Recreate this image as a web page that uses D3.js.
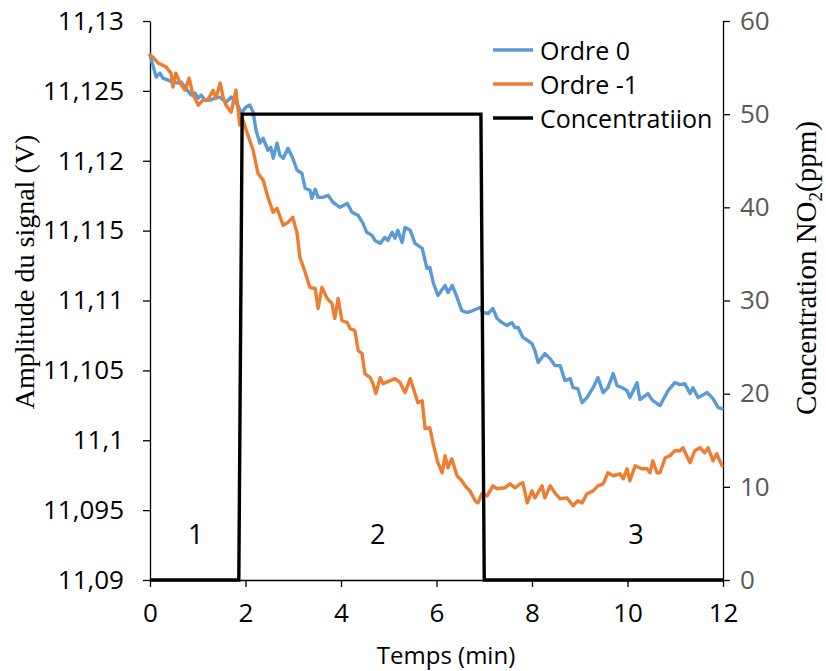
<!DOCTYPE html>
<html><head><meta charset="utf-8">
<script src="https://cdn.jsdelivr.net/npm/d3@7"></script>
<style>
body{margin:0;background:#fff;}
svg{display:block;}
</style></head>
<body>
<svg id="chart" width="826" height="671"></svg>
<script>
// ---- data ----
const timeOrdre0 = [0.00,0.13,0.21,0.27,0.38,0.48,0.59,0.65,0.73,0.86,0.94,1.01,1.07,1.15,1.26,1.36,1.47,1.59,1.70,1.84,1.91,2.01,2.09,2.16,2.22,2.30,2.37,2.47,2.53,2.58,2.66,2.72,2.79,2.89,2.99,3.08,3.18,3.25,3.35,3.39,3.46,3.52,3.62,3.73,3.83,3.98,4.13,4.23,4.36,4.46,4.54,4.65,4.71,4.82,4.92,4.98,5.07,5.13,5.19,5.28,5.34,5.45,5.55,5.70,5.80,5.86,5.93,6.03,6.18,6.24,6.33,6.43,6.53,6.64,6.76,6.91,6.97,7.08,7.18,7.27,7.37,7.48,7.58,7.64,7.71,7.81,7.85,8.00,8.06,8.13,8.27,8.38,8.48,8.59,8.69,8.80,8.86,8.96,9.05,9.15,9.28,9.38,9.49,9.59,9.70,9.78,9.89,9.99,10.05,10.20,10.26,10.43,10.53,10.68,10.85,10.99,11.10,11.20,11.31,11.37,11.48,11.67,11.79,11.90,11.98];
const ampOrdre0 = [11.12756,11.12599,11.12627,11.12591,11.12577,11.12563,11.12556,11.12563,11.12527,11.12470,11.12484,11.12448,11.12470,11.12434,11.12434,11.12448,11.12455,11.12419,11.12455,11.12398,11.12341,11.12384,11.12398,11.12348,11.12219,11.12126,11.12161,11.12075,11.12097,11.12018,11.12126,11.12040,11.12018,11.12090,11.12018,11.11932,11.11911,11.11803,11.11789,11.11731,11.11796,11.11738,11.11738,11.11753,11.11703,11.11667,11.11695,11.11631,11.11609,11.11552,11.11488,11.11466,11.11430,11.11409,11.11452,11.11430,11.11488,11.11445,11.11502,11.11416,11.11523,11.11502,11.11409,11.11373,11.11230,11.11237,11.11129,11.11036,11.11108,11.11057,11.11108,11.11022,11.10928,11.10914,11.10928,11.10950,11.10914,11.10907,11.10943,11.10871,11.10842,11.10821,11.10842,11.10807,11.10807,11.10735,11.10728,11.10692,11.10642,11.10556,11.10620,11.10584,11.10534,11.10534,11.10427,11.10441,11.10376,11.10369,11.10269,11.10305,11.10376,11.10448,11.10341,11.10376,11.10477,11.10391,11.10376,11.10355,11.10305,11.10412,11.10291,11.10334,11.10283,11.10248,11.10355,11.10412,11.10398,11.10405,11.10334,11.10376,11.10305,11.10341,11.10298,11.10233,11.10226];

const timeOrdre1 = [0.00,0.06,0.17,0.34,0.44,0.48,0.54,0.63,0.73,0.82,0.90,0.94,1.01,1.11,1.21,1.32,1.38,1.47,1.53,1.59,1.70,1.80,1.88,1.95,2.05,2.16,2.26,2.37,2.47,2.58,2.66,2.79,2.89,2.99,3.08,3.14,3.25,3.35,3.46,3.52,3.60,3.71,3.81,3.87,3.94,4.02,4.13,4.19,4.29,4.36,4.44,4.50,4.61,4.67,4.73,4.82,4.88,5.03,5.13,5.24,5.34,5.45,5.55,5.61,5.70,5.76,5.86,5.93,6.03,6.12,6.18,6.24,6.32,6.43,6.53,6.60,6.70,6.81,6.87,6.95,7.06,7.18,7.27,7.43,7.54,7.64,7.75,7.81,7.90,8.00,8.06,8.21,8.27,8.38,8.48,8.59,8.73,8.86,8.96,9.05,9.15,9.28,9.38,9.49,9.59,9.70,9.84,9.91,9.99,10.05,10.16,10.30,10.41,10.47,10.53,10.62,10.68,10.79,10.89,10.99,11.10,11.16,11.31,11.41,11.52,11.62,11.69,11.79,11.87,11.98];
const ampOrdre1 = [11.12756,11.12742,11.12699,11.12670,11.12627,11.12527,11.12627,11.12556,11.12505,11.12591,11.12470,11.12448,11.12398,11.12434,11.12434,11.12505,11.12448,11.12556,11.12455,11.12398,11.12348,11.12505,11.12255,11.12290,11.12183,11.12075,11.11911,11.11860,11.11738,11.11631,11.11660,11.11538,11.11559,11.11595,11.11480,11.11308,11.11201,11.11093,11.11086,11.10943,11.11093,11.11014,11.10979,11.10871,11.11014,11.10857,11.10842,11.10799,11.10785,11.10642,11.10620,11.10477,11.10448,11.10405,11.10334,11.10448,11.10405,11.10427,11.10441,11.10412,11.10341,11.10441,11.10334,11.10269,11.10283,11.10083,11.10090,11.09975,11.09839,11.09767,11.09889,11.09803,11.09868,11.09746,11.09710,11.09674,11.09638,11.09567,11.09552,11.09617,11.09602,11.09674,11.09653,11.09660,11.09688,11.09660,11.09688,11.09696,11.09552,11.09638,11.09588,11.09674,11.09588,11.09674,11.09624,11.09581,11.09588,11.09531,11.09567,11.09552,11.09617,11.09638,11.09674,11.09688,11.09767,11.09746,11.09760,11.09724,11.09796,11.09710,11.09817,11.09796,11.09796,11.09767,11.09853,11.09767,11.09767,11.09875,11.09889,11.09925,11.09925,11.09946,11.09839,11.09925,11.09946,11.09911,11.09946,11.09853,11.09903,11.09817];

const concTime  = [0, 1.86, 1.93, 6.93, 7.0, 12];
const concValue = [0, 0, 50, 50, 0, 0];

const leftTicks  = [11.09,11.095,11.1,11.105,11.11,11.115,11.12,11.125,11.13];
const rightTicks = [0,10,20,30,40,50,60];
const xTicks     = [0,2,4,6,8,10,12];

const seriesNames = ["Ordre 0","Ordre -1","Concentratiion"];
const seriesColors = ["#5B9BD5","#ED7D31","#000000"];
const zoneLabels = ["1","2","3"];
const zoneTimes  = [0.96, 4.77, 10.18];
const zoneAmp    = 11.0933;

// ---- chart ----
const svg = d3.select("#chart");
const font = "'Open Sans', sans-serif";
const x  = d3.scaleLinear().domain([0,12]).range([150,723]);
const yL = d3.scaleLinear().domain([11.09,11.13]).range([580,21]);
const yR = d3.scaleLinear().domain([0,60]).range([580,21]);

const fmt = d => String(+d.toFixed(3)).replace(".", ",");

function styleAxis(g, color){
  g.select(".domain").attr("stroke","#000").attr("stroke-width",1.3);
  g.selectAll(".tick line").attr("stroke","#000").attr("stroke-width",1.3);
  g.selectAll(".tick text").attr("fill",color).style("font-family",font).style("font-size","26px");
}

svg.append("g").attr("transform","translate(150,0)")
  .call(d3.axisLeft(yL).tickValues(leftTicks).tickFormat(fmt).tickSize(7).tickSizeOuter(0).tickPadding(19))
  .call(g=>styleAxis(g,"#000"));
svg.append("g").attr("transform","translate(723,0)")
  .call(d3.axisRight(yR).tickValues(rightTicks).tickSize(7).tickSizeOuter(0).tickPadding(10))
  .call(g=>styleAxis(g,"#595959"));
svg.append("g").attr("transform","translate(0,580)")
  .call(d3.axisBottom(x).tickValues(xTicks).tickSize(7).tickSizeOuter(0).tickPadding(17))
  .call(g=>styleAxis(g,"#000"));

// axis titles
svg.append("text").attr("x",446).attr("y",664).attr("text-anchor","middle")
  .style("font-family",font).style("font-size","24px").text("Temps (min)");
svg.append("text").attr("transform","translate(34,272) rotate(-90)").attr("text-anchor","middle")
  .style("font-family","'Liberation Serif', serif").style("font-size","28px").text("Amplitude du signal (V)");
const rt = svg.append("text").attr("transform","translate(816,268) rotate(-90)").attr("text-anchor","middle")
  .style("font-family","'Liberation Serif', serif").style("font-size","29px");
rt.append("tspan").text("Concentration  NO");
rt.append("tspan").attr("dy",6).style("font-size","19px").text("2");
rt.append("tspan").attr("dy",-6).text("(ppm)");

// lines
const lineL = d3.line().x(d=>x(d[0])).y(d=>yL(d[1]));
const lineR = d3.line().x(d=>x(d[0])).y(d=>yR(d[1]));
const s0 = timeOrdre0.map((t,i)=>[t,ampOrdre0[i]]);
const s1 = timeOrdre1.map((t,i)=>[t,ampOrdre1[i]]);
const sc = concTime.map((t,i)=>[t,concValue[i]]);

svg.append("path").datum(s0).attr("d",lineL).attr("fill","none")
  .attr("stroke",seriesColors[0]).attr("stroke-width",3.4).attr("stroke-linejoin","round").attr("stroke-linecap","round");
svg.append("path").datum(s1).attr("d",lineL).attr("fill","none")
  .attr("stroke",seriesColors[1]).attr("stroke-width",3.4).attr("stroke-linejoin","round").attr("stroke-linecap","round");
svg.append("path").datum(sc).attr("d",lineR).attr("fill","none")
  .attr("stroke",seriesColors[2]).attr("stroke-width",3.4).attr("stroke-linejoin","miter");

// zone labels
zoneLabels.forEach((lab,i)=>{
  svg.append("text").attr("x",x(zoneTimes[i])).attr("y",yL(zoneAmp)).attr("text-anchor","middle")
    .attr("dominant-baseline","central")
    .style("font-family",font).style("font-size","27px").text(lab);
});

// legend
const leg = svg.append("g");
seriesNames.forEach((n,i)=>{
  const yy = 50 + i*34;
  leg.append("line").attr("x1",493).attr("x2",533).attr("y1",yy).attr("y2",yy)
    .attr("stroke",seriesColors[i]).attr("stroke-width",3.4);
  leg.append("text").attr("x",540).attr("y",yy).attr("dominant-baseline","central")
    .style("font-family",font).style("font-size","25px").text(n);
});
</script>
</body></html>
